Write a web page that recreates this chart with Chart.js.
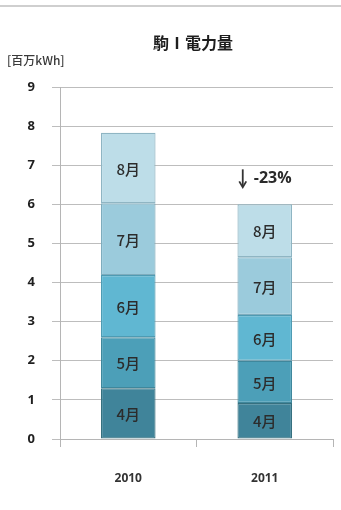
<!DOCTYPE html>
<html>
<head>
<meta charset="utf-8">
<script src="https://cdn.jsdelivr.net/npm/chart.js@4.4.1/dist/chart.umd.min.js"></script>
<style>
  html, body { margin: 0; padding: 0; background: #ffffff; }
  #wrap { position: relative; width: 341px; height: 510px; }
  canvas { display: block; }
</style>
</head>
<body>
<div id="wrap"><canvas id="c" width="341" height="510"></canvas></div>
<script>
// Fiscal years on the x axis
const years = ['2010', '2011'];
// Month series (百万kWh), stacked bottom to top
const months = ['4月', '5月', '6月', '7月', '8月'];
const apr = [1.30, 0.92];
const may = [1.30, 1.08];
const jun = [1.59, 1.17];
const jul = [1.84, 1.48];
const aug = [1.80, 1.35];
// Y axis ticks
const yTicks = [0, 1, 2, 3, 4, 5, 6, 7, 8, 9];

const titleText = '駒Ⅰ電力量';
const unitText = '[百万kWh]';

const fills = ['#40849a', '#4c9fb8', '#60b7d2', '#9bcbdc', '#bddde8'];
const edges = ['#36707f', '#3f879c', '#4e9bb3', '#7eacbd', '#8fb5c3'];
const seriesValues = [apr, may, jun, jul, aug];

const datasets = months.map((m, i) => ({
  label: m,
  data: seriesValues[i],
  backgroundColor: fills[i],
  borderColor: edges[i],
  borderWidth: 1.2,
  borderSkipped: false,
  barPercentage: 0.40,
  categoryPercentage: 1.0
}));

const totals = years.map((_, j) => seriesValues.reduce((s, arr) => s + arr[j], 0));
const change = Math.round((totals[1] - totals[0]) / totals[0] * 100);
const changeText = '-' + Math.abs(change) + '%';

const FONT = '"Open Sans", "Noto Sans CJK JP", sans-serif';

// Text and decorations drawn around and on the bars
const decor = {
  id: 'decor',
  afterDatasetsDraw(chart) {
    const ctx = chart.ctx;
    ctx.save();
    // month names centred on each segment
    ctx.fillStyle = '#2c2c2c';
    ctx.font = '500 15px "Noto Sans CJK JP", sans-serif';
    ctx.textAlign = 'center';
    ctx.textBaseline = 'middle';
    chart.data.datasets.forEach((ds, i) => {
      const meta = chart.getDatasetMeta(i);
      meta.data.forEach(bar => {
        ctx.fillText(ds.label, bar.x, (bar.y + bar.base) / 2 + 1);
      });
    });
    // change from the first year to the second, over the second bar
    const top2 = chart.getDatasetMeta(months.length - 1).data[1];
    const ySc = chart.scales.y;
    const ay = ySc.getPixelForValue(totals[1]) - 26;
    ctx.font = 'bold 16px ' + FONT;
    ctx.textAlign = 'left';
    ctx.fillStyle = '#2a2a2a';
    ctx.fillText(changeText, top2.x - 11, ay);
    // down arrow
    const axp = top2.x - 22;
    ctx.strokeStyle = '#333333';
    ctx.lineWidth = 1.8;
    ctx.beginPath();
    ctx.moveTo(axp, ay - 9);
    ctx.lineTo(axp, ay + 8);
    ctx.stroke();
    ctx.beginPath();
    ctx.moveTo(axp - 3.5, ay + 3);
    ctx.lineTo(axp, ay + 9);
    ctx.lineTo(axp + 3.5, ay + 3);
    ctx.stroke();
    ctx.restore();
  },
  beforeDraw(chart) {
    const ctx = chart.ctx;
    ctx.save();
    // frame line along the top edge
    ctx.strokeStyle = '#cfcfcf';
    ctx.lineWidth = 2;
    ctx.beginPath();
    ctx.moveTo(0, 6);
    ctx.lineTo(341, 6);
    ctx.stroke();
    // title
    ctx.fillStyle = '#1e1e1e';
    ctx.font = 'bold 16px "Noto Sans CJK JP", sans-serif';
    ctx.textAlign = 'center';
    ctx.textBaseline = 'middle';
    ctx.fillText(titleText, 193, 43);
    // unit label
    ctx.fillStyle = '#3a3a3a';
    ctx.font = '500 12px "Noto Sans CJK JP", sans-serif';
    ctx.textAlign = 'left';
    ctx.fillText(unitText, 7, 60);
    ctx.restore();
  }
};

new Chart(document.getElementById('c'), {
  type: 'bar',
  data: { labels: years, datasets },
  plugins: [decor],
  options: {
    responsive: false,
    animation: false,
    devicePixelRatio: 1,
    layout: { padding: { top: 87, right: 8, bottom: 0, left: 0 } },
    plugins: {
      legend: { display: false },
      title: { display: false },
      tooltip: { enabled: false }
    },
    scales: {
      x: {
        stacked: true,
        grid: {
          display: true,
          offset: true,
          drawOnChartArea: false,
          drawTicks: true,
          tickLength: 8,
          color: '#b5b5b5'
        },
        border: { display: true, color: '#b5b5b5' },
        ticks: {
          color: '#333333',
          font: { family: FONT, size: 12, weight: 'bold' },
          padding: 24
        },
        afterFit(scale) { scale.height = 71; }
      },
      y: {
        stacked: true,
        min: yTicks[0],
        max: yTicks[yTicks.length - 1],
        afterBuildTicks(scale) { scale.ticks = yTicks.map(v => ({ value: v })); },
        grid: {
          color: '#bdbdbd',
          lineWidth: 1,
          drawTicks: true,
          tickLength: 8
        },
        border: { display: true, color: '#b5b5b5' },
        ticks: {
          color: '#1f1f1f',
          font: { family: FONT, size: 13, weight: 'bold' },
          padding: 17
        },
        afterFit(scale) { scale.width = 60; }
      }
    }
  }
});
</script>
</body>
</html>
